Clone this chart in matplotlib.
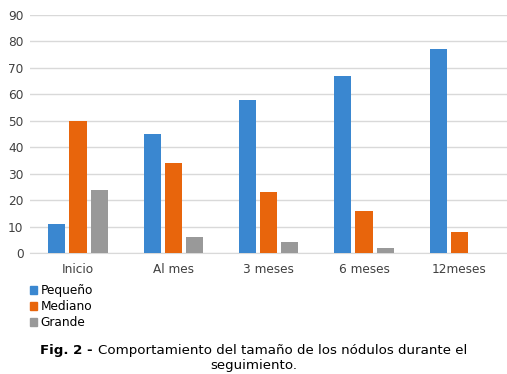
import numpy as np
import matplotlib.pyplot as plt
from matplotlib.patches import Patch

categorias = ["Inicio", "Al mes", "3 meses", "6 meses", "12meses"]
pequeno = [11, 45, 58, 67, 77]
mediano = [50, 34, 23, 16, 8]
grande = [24, 6, 4, 2, 0]
series = ["Pequeño", "Mediano", "Grande"]
colores = ["#3a87d0", "#e8650c", "#999999"]

fig = plt.figure(figsize=(5.07, 3.74), dpi=100)
ax = fig.add_axes([0.06, 0.3235, 0.94, 0.6365])

x = np.arange(len(categorias))
w = 0.18
paso = 0.222
for k, vals in enumerate([pequeno, mediano, grande]):
    ax.bar(x + (k - 1) * paso, vals, w, color=colores[k], zorder=3)

ax.set_xlim(-0.5, len(categorias) - 0.5)
ax.set_ylim(0, 90)
ax.set_yticks(range(0, 91, 10))
ax.set_xticks(x)
ax.set_xticklabels(categorias)
ax.grid(axis="y", color="#d9d9d9", linewidth=1, zorder=0)
for s in ["top", "right", "left"]:
    ax.spines[s].set_visible(False)
ax.spines["bottom"].set_color("#d9d9d9")
ax.tick_params(length=0, labelsize=8.7, labelcolor="#404040")
ax.tick_params(axis="x", pad=7)
ax.tick_params(axis="y", pad=5)

handles = [Patch(color=c, label=s) for c, s in zip(colores, series)]
fig.legend(handles=handles, loc="upper left", bbox_to_anchor=(0.06, 0.24),
           frameon=False, fontsize=8.7, handlelength=0.55, handleheight=0.55,
           handletextpad=0.3, labelspacing=0.25, borderaxespad=0, borderpad=0)

# caption: bold part + normal part, centred together
negrita = "Fig. 2 - "
resto = "Comportamiento del tamaño de los nódulos durante el"
r = fig.canvas.get_renderer()
t1 = fig.text(0, 0.064, negrita, fontsize=9.6, fontweight="bold", va="center")
t2 = fig.text(0, 0.064, resto, fontsize=9.6, va="center")
w1 = t1.get_window_extent(r).width / fig.bbox.width
w2 = t2.get_window_extent(r).width / fig.bbox.width
x0 = 0.5 - (w1 + w2) / 2
t1.set_x(x0)
t2.set_x(x0 + w1)
fig.text(0.5, 0.023, "seguimiento.", ha="center", va="center", fontsize=9.6)

fig.savefig("out.png", dpi=100)
